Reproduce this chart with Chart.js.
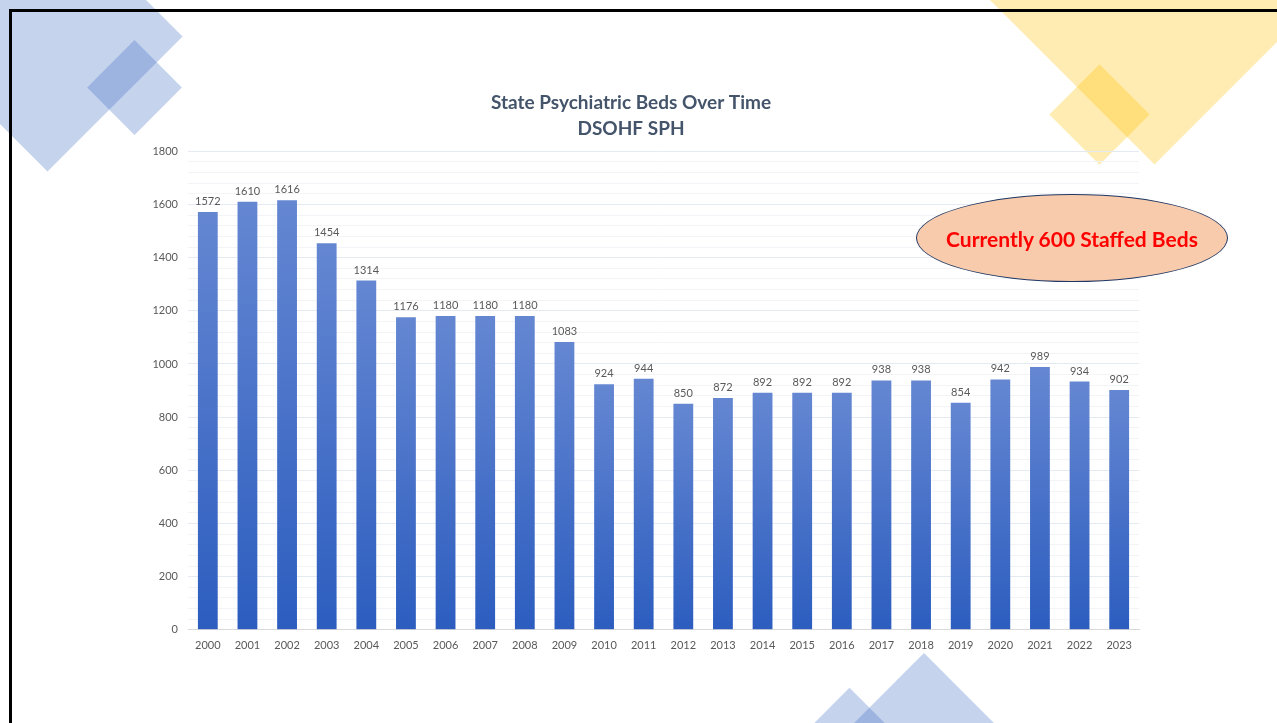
<!DOCTYPE html>
<html>
<head>
<meta charset="utf-8">
<script src="https://cdn.jsdelivr.net/npm/chart.js@4.4.0/dist/chart.umd.min.js"></script>
<style>
  html, body { margin: 0; padding: 0; background: #fff; overflow: hidden; }
  body { width: 1277px; height: 723px; position: relative; }
  .frame { position: absolute; left: 9px; top: 9px; width: 1400px; height: 800px;
           border-top: 3px solid #000; border-left: 3px solid #000; }
  .dia { position: absolute; transform: rotate(45deg); }
  .blue { background: rgba(68,114,196,0.31); }
  .yellow { background: rgba(255,192,0,0.3); }
  #wrap { position: absolute; left: 123px; top: 80px; width: 1029px; height: 585px; }
  .bubble { position: absolute; left: 916px; top: 194px; width: 310px; height: 86px;
            border: 1.5px solid #203864; border-radius: 50%; background: #f8cbad;
            display: flex; align-items: center; justify-content: center;
            font: bold 21px Lato, "Open Sans", sans-serif; color: #ff0000; }
</style>
</head>
<body>
<!-- Decorative diamonds -->
<div class="dia blue" style="left:-48px;top:-59px;width:191px;height:191px;"></div>
<div class="dia blue" style="left:101px;top:54px;width:67px;height:67px;"></div>
<div class="dia yellow" style="left:1013px;top:-177px;width:283px;height:283px;"></div>
<div class="dia yellow" style="left:1064px;top:79px;width:71px;height:71px;"></div>
<div class="dia blue" style="left:818px;top:697px;width:212px;height:212px;"></div>
<div class="dia blue" style="left:779px;top:717px;width:141px;height:141px;"></div>
<div class="frame"></div>

<div id="wrap"><canvas id="graphBeds"></canvas></div>
<div class="bubble">Currently 600 Staffed Beds</div>

<script>
// Dati
const years = ["2000","2001","2002","2003","2004","2005","2006","2007","2008","2009","2010","2011",
               "2012","2013","2014","2015","2016","2017","2018","2019","2020","2021","2022","2023"];
const beds = [1572,1610,1616,1454,1314,1176,1180,1180,1180,1083,924,944,
              850,872,892,892,892,938,938,854,942,989,934,902];
const yMax = 1800;
const yStep = 200;
const yMinorStep = 40;
const titleLines = ["State Psychiatric Beds Over Time", "DSOHF SPH"];

// Etichette sopra le barre
const valueLabels = {
	id: 'valueLabels',
	afterDatasetsDraw(chart) {
		const ctx = chart.ctx;
		const meta = chart.getDatasetMeta(0);
		ctx.save();
		ctx.font = '11px Lato, "Open Sans", sans-serif';
		ctx.fillStyle = '#595959';
		ctx.textAlign = 'center';
		ctx.textBaseline = 'bottom';
		meta.data.forEach(function(bar, i) {
			ctx.fillText(beds[i], bar.x, bar.y - 5);
		});
		ctx.restore();
	}
};

// Gradiente per ogni barra
function barGradient(c) {
	const chart = c.chart;
	if (!chart.chartArea || c.raw === undefined) return '#4472c4';
	const y = chart.scales.y;
	const top = y.getPixelForValue(c.raw);
	const bottom = y.getPixelForValue(0);
	const g = chart.ctx.createLinearGradient(0, top, 0, bottom);
	g.addColorStop(0, '#6587d2');
	g.addColorStop(1, '#2c5dbf');
	return g;
}

let config = {
	type: 'bar',
	data: {
		labels: years,
		datasets: [{
			data: beds,
			backgroundColor: barGradient,
			barPercentage: 0.5,
			categoryPercentage: 1.0
		}]
	},
	options: {
		responsive: true,
		maintainAspectRatio: false,
		animation: false,
		layout: { padding: { left: 0, right: 13, top: 0, bottom: 4 } },
		plugins: {
			legend: { display: false },
			tooltip: { enabled: false },
			title: {
				display: true,
				text: titleLines,
				color: '#44546a',
				font: { family: 'Lato, "Open Sans", sans-serif', size: 19, weight: 'bold', lineHeight: 1.35 },
				padding: { top: 10, bottom: 10 }
			}
		},
		scales: {
			x: {
				grid: { display: false, drawTicks: false },
				border: { color: '#d9d9d9' },
				ticks: {
					color: '#595959',
					font: { family: 'Lato, "Open Sans", sans-serif', size: 11 },
					padding: 9,
					maxRotation: 0
				}
			},
			y: {
				min: 0,
				max: yMax,
				afterFit: function(scale) { scale.width = 65; },
				border: { display: false },
				grid: {
					drawTicks: false,
					color: function(c) {
						return c.tick.value % yStep === 0 ? '#e4e9f2' : '#f2f4f8';
					}
				},
				ticks: {
					stepSize: yMinorStep,
					autoSkip: false,
					padding: 10,
					color: '#595959',
					font: { family: 'Lato, "Open Sans", sans-serif', size: 11 },
					callback: function(v) { return v % yStep === 0 ? v : ''; }
				}
			}
		}
	},
	plugins: [valueLabels]
};

var ctxBeds = document.getElementById("graphBeds").getContext("2d");
window.bedsChart = new Chart(ctxBeds, config);
</script>
</body>
</html>
